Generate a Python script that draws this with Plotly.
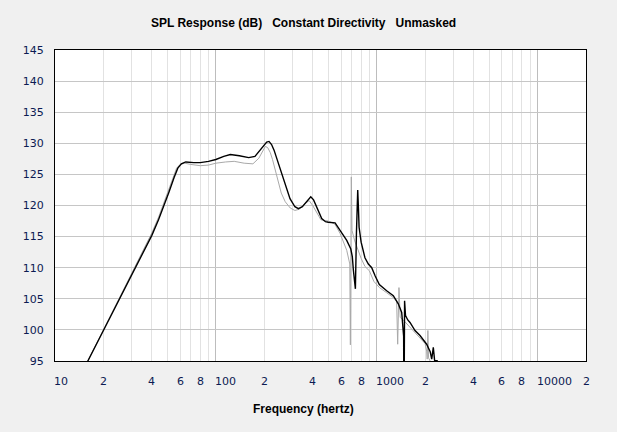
import math
import plotly.graph_objects as go

# ---- data ----
black_freq = [15.5, 16, 20, 25, 29, 33, 36, 40, 44, 47, 51, 55, 58, 61, 65, 73, 80, 90, 100, 112, 123, 140,
              160, 175, 188, 200, 207, 214, 222, 230, 239, 255, 270, 289, 310, 326, 345, 359, 375, 389,
              405, 424, 455, 480, 500, 551, 592, 651, 690, 705, 716, 730, 737, 748, 762, 770,
              777, 800, 845, 887, 931, 977, 1038, 1153, 1268, 1362, 1430, 1470, 1478, 1490,
              1510, 1560, 1610, 1730, 1858, 2043, 2150, 2197, 2248, 2290, 2400]
black_db = [94.2, 95.0, 99.9, 104.8, 108.0, 110.9, 112.8, 115.2, 117.7, 119.6, 122.1, 124.5, 126.0,
            126.7, 127.0, 126.9, 126.9, 127.1, 127.4, 127.9, 128.2, 128.0, 127.7, 127.9, 128.9,
            129.8, 130.2, 130.3, 129.8, 128.9, 127.6, 125.2, 123.3, 121.1, 119.8, 119.5, 119.8,
            120.3, 121.0, 121.4, 120.9, 119.8, 117.9, 117.4, 117.3, 117.2, 116.0, 114.4, 113.0,
            111.8, 109.6, 107.5, 106.6, 115.5, 122.5, 119.5, 116.5, 114.1, 111.6, 110.6, 110.0,
            108.7, 107.3, 106.3, 105.5, 104.2, 102.8, 99.0, 85.0, 104.7, 102.3, 101.6, 101.2,
            99.9, 99.1, 97.7, 96.5, 95.3, 97.2, 95.1, 95.0]

grey_freq = [15.5, 16, 20, 25, 29, 33, 36, 40, 44, 47, 51, 54, 57, 60, 64, 70, 80, 90, 100, 115, 130, 150, 170,
             185, 195, 203, 210, 218, 225, 240, 255, 270, 290, 310, 330, 355, 380, 400, 424, 450, 500,
             550, 592, 651, 680, 686, 695, 702, 730, 760, 800, 845, 900, 960, 1040, 1150, 1268,
             1330, 1350, 1375, 1400, 1450, 1600, 1750, 1900, 2000, 2043, 2060, 2080, 2100, 2150]
grey_db = [94.2, 95.0, 100.0, 105.0, 108.3, 111.2, 113.2, 115.6, 118.1, 120.1, 122.7, 124.6, 126.0,
           126.6, 126.8, 126.6, 126.4, 126.5, 126.8, 127.0, 127.1, 126.8, 126.7, 127.6, 128.8,
           129.5, 129.3, 128.5, 127.4, 124.5, 122.0, 120.6, 119.6, 119.2, 119.4, 120.2, 120.8,
           120.0, 118.8, 117.7, 117.5, 117.0, 115.5, 112.8, 110.6, 97.6, 124.6, 116.0, 114.3,
           113.0, 111.5, 110.2, 109.5, 107.8, 106.8, 106.0, 105.2, 104.6, 97.7, 106.8, 102.0,
           101.7, 100.5, 99.4, 98.5, 97.8, 96.6, 95.3, 99.9, 95.5, 95.0]

x_tick_vals = [10, 20, 40, 60, 80, 100, 200, 400, 600, 800, 1000, 2000, 4000, 6000, 8000, 10000, 20000]
x_tick_text = ["10", "2", "4", "6", "8", "100", "2", "4", "6", "8", "1000", "2", "4", "6", "8", "10000", "2"]
x_major_grid = [10, 100, 1000, 10000]
x_minor_grid = [m * d for d in (10, 100, 1000, 10000) for m in range(2, 10) if m * d <= 20000]
y_tick_vals = [95, 100, 105, 110, 115, 120, 125, 130, 135, 140, 145]

title_text = "SPL Response (dB)\u00a0\u00a0\u00a0Constant Directivity\u00a0\u00a0\u00a0Unmasked"
x_title = "Frequency (hertz)"

label_color = "#0c1a52"

fig = go.Figure()
fig.add_trace(go.Scatter(x=grey_freq, y=grey_db, mode="lines",
                         line=dict(color="#a9a9a9", width=1), hoverinfo="skip"))
fig.add_trace(go.Scatter(x=black_freq, y=black_db, mode="lines",
                         line=dict(color="#000000", width=1.4), hoverinfo="skip"))

annotations = []
for v, t in zip(x_tick_vals, x_tick_text):
    single = len(t) == 1
    annotations.append(dict(
        x=math.log10(v), y=0, xref="x", yref="paper", yanchor="top",
        xanchor="center" if single else "left", xshift=0 if single else -3, yshift=-12,
        text=t, showarrow=False,
        font=dict(family="DejaVu Sans", size=11, color=label_color)))
annotations.append(dict(x=0.468, y=1, xref="paper", yref="paper", yanchor="bottom", yshift=18,
                        text=title_text, showarrow=False,
                        font=dict(family="Liberation Sans", size=12, color="#000000", weight="bold")))
annotations.append(dict(x=0.468, y=0, xref="paper", yref="paper", yanchor="top", yshift=-39,
                        text=x_title, showarrow=False,
                        font=dict(family="Liberation Sans", size=12, color="#000000", weight="bold")))

fig.update_layout(
    width=617, height=432,
    margin=dict(l=55, r=31, t=50, b=71),
    paper_bgcolor="#f0f0f0", plot_bgcolor="#ffffff",
    showlegend=False,
    annotations=annotations,
    xaxis=dict(type="log", range=[1, math.log10(20000)],
               tickvals=x_major_grid, showticklabels=False, ticks="",
               showgrid=True, gridcolor="#bdbdbd", gridwidth=1,
               minor=dict(tickvals=x_minor_grid, showgrid=True, gridcolor="#e2e2e2", gridwidth=1, ticks=""),
               showline=True, mirror=True, linecolor="#000000", linewidth=1, zeroline=False),
    yaxis=dict(range=[95, 145], tickvals=y_tick_vals, ticks="",
               showgrid=True, gridcolor="#c6c6c6", gridwidth=1,
               tickfont=dict(family="DejaVu Sans", size=11, color=label_color),
               ticklabelstandoff=8,
               showline=True, mirror=True, linecolor="#000000", linewidth=1, zeroline=False),
)

fig.write_html("out.html")
